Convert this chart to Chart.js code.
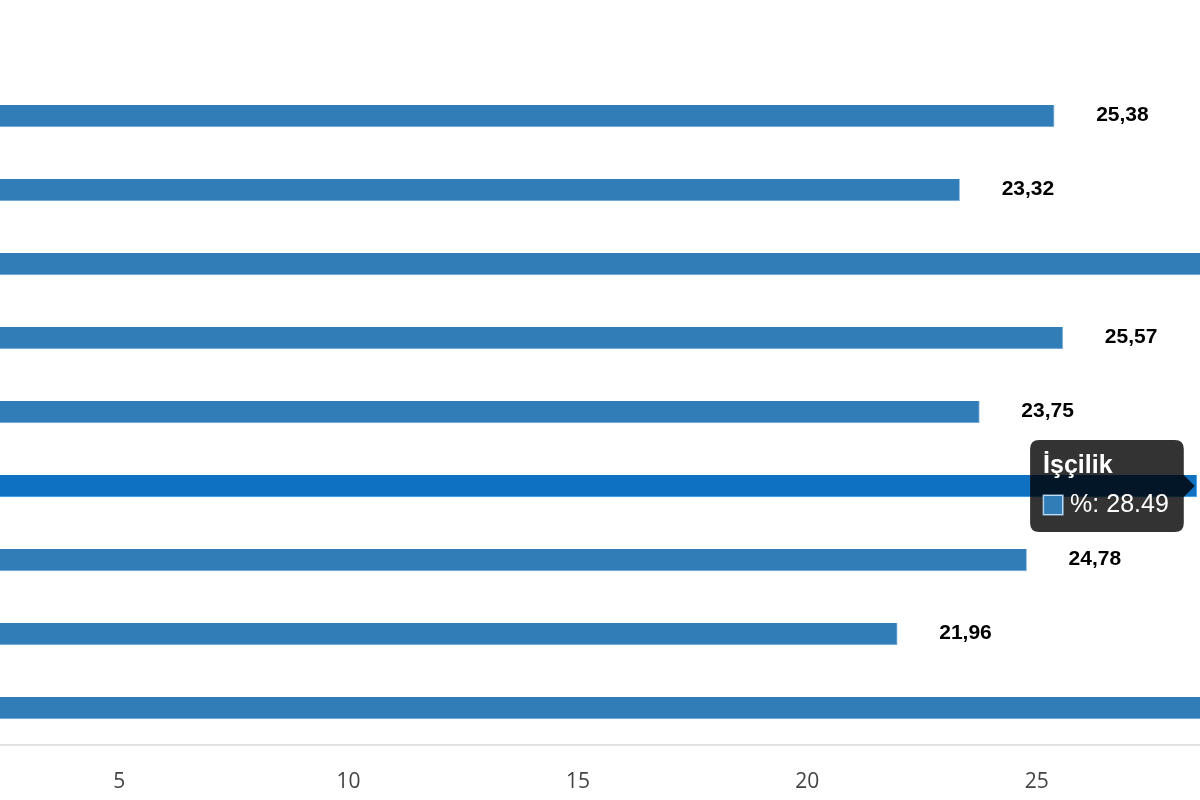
<!DOCTYPE html>
<html lang="tr">
<head>
    <meta charset="UTF-8">
    <title>İşçilik</title>
    <script src="https://cdn.jsdelivr.net/npm/chart.js"></script>
    <style>
        html, body { margin: 0; padding: 0; background: #fff; }
        #wrap { width: 1200px; height: 800px; position: relative; }
    </style>
</head>
<body>
    <div id="wrap"><canvas id="grafik"></canvas></div>

    <script>
        // kategoriler (sol eksen görünmüyor, sadece İşçilik okunabiliyor)
        const kategoriler = ['', '', '', '', '', 'İşçilik', '', '', ''];
        // değerler (%) - 3. ve 9. çubuk görünür alanın dışına taşıyor, tahmini
        const degerler = [25.38, 23.32, 29.9, 25.57, 23.75, 28.49, 24.78, 21.96, 31.2];
        const xTikler = [5, 10, 15, 20, 25];
        const xMin = 2.40;
        const xMax = 28.56;
        const aktifIndex = 5;

        const etiketPlugin = {
            id: 'etiketler',
            afterDatasetsDraw(chart) {
                const ctx = chart.ctx;
                const meta = chart.getDatasetMeta(0);
                ctx.save();
                ctx.font = 'bold 21px "Liberation Sans", Arial, sans-serif';
                ctx.fillStyle = '#000';
                ctx.textAlign = 'left';
                ctx.textBaseline = 'middle';
                meta.data.forEach((bar, i) => {
                    const yazi = degerler[i].toFixed(2).replace('.', ',');
                    ctx.fillText(yazi, bar.x + 42, bar.y - 1);
                });
                ctx.restore();
            }
        };

        const ctx = document.getElementById('grafik').getContext('2d');
        const grafik = new Chart(ctx, {
            type: 'bar',
            data: {
                labels: kategoriler,
                datasets: [{
                    label: '%',
                    data: degerler,
                    backgroundColor: '#307db8',
                    hoverBackgroundColor: '#0f71c1',
                    borderColor: '#8cbbe0',
                    borderWidth: { top: 0, right: 1, bottom: 1, left: 0 },
                    barThickness: 22
                }]
            },
            options: {
                indexAxis: 'y',
                responsive: true,
                maintainAspectRatio: false,
                animation: false,
                layout: { padding: { top: 79, bottom: 0, left: 0, right: 0 } },
                scales: {
                    x: {
                        min: xMin,
                        max: xMax,
                        afterBuildTicks: (scale) => { scale.ticks = xTikler.map(v => ({ value: v })); },
                        afterFit: (scale) => { scale.height = 55; },
                        grid: { display: false, drawTicks: false },
                        border: { display: true, color: '#e2e2e2', width: 2 },
                        ticks: {
                            color: '#444',
                            padding: 24,
                            maxRotation: 0,
                            font: { family: '"Open Sans", sans-serif', size: 21 }
                        }
                    },
                    y: {
                        display: false,
                        grid: { display: false }
                    }
                },
                plugins: {
                    legend: { display: false },
                    tooltip: {
                        xAlign: 'right',
                        yAlign: 'center',
                        backgroundColor: 'rgba(0,0,0,0.8)',
                        titleColor: '#fff',
                        bodyColor: '#fff',
                        titleFont: { family: 'Arial, "Liberation Sans", sans-serif', size: 25, weight: 'bold' },
                        bodyFont: { family: 'Arial, "Liberation Sans", sans-serif', size: 25 },
                        padding: { top: 11, bottom: 12, left: 13, right: 15 },
                        titleMarginBottom: 9,
                        caretSize: 11,
                        cornerRadius: 9,
                        boxWidth: 20,
                        boxHeight: 20,
                        boxPadding: 5,
                        callbacks: {
                            label: (item) => item.dataset.label + ': ' + item.raw
                        }
                    }
                }
            },
            plugins: [etiketPlugin]
        });

        // İşçilik çubuğunu aktif göster
        const aktif = [{ datasetIndex: 0, index: aktifIndex }];
        grafik.setActiveElements(aktif);
        const el = grafik.getDatasetMeta(0).data[aktifIndex];
        grafik.tooltip.setActiveElements(aktif, { x: el.x, y: el.y });
        grafik.update('none');
    </script>
</body>
</html>
